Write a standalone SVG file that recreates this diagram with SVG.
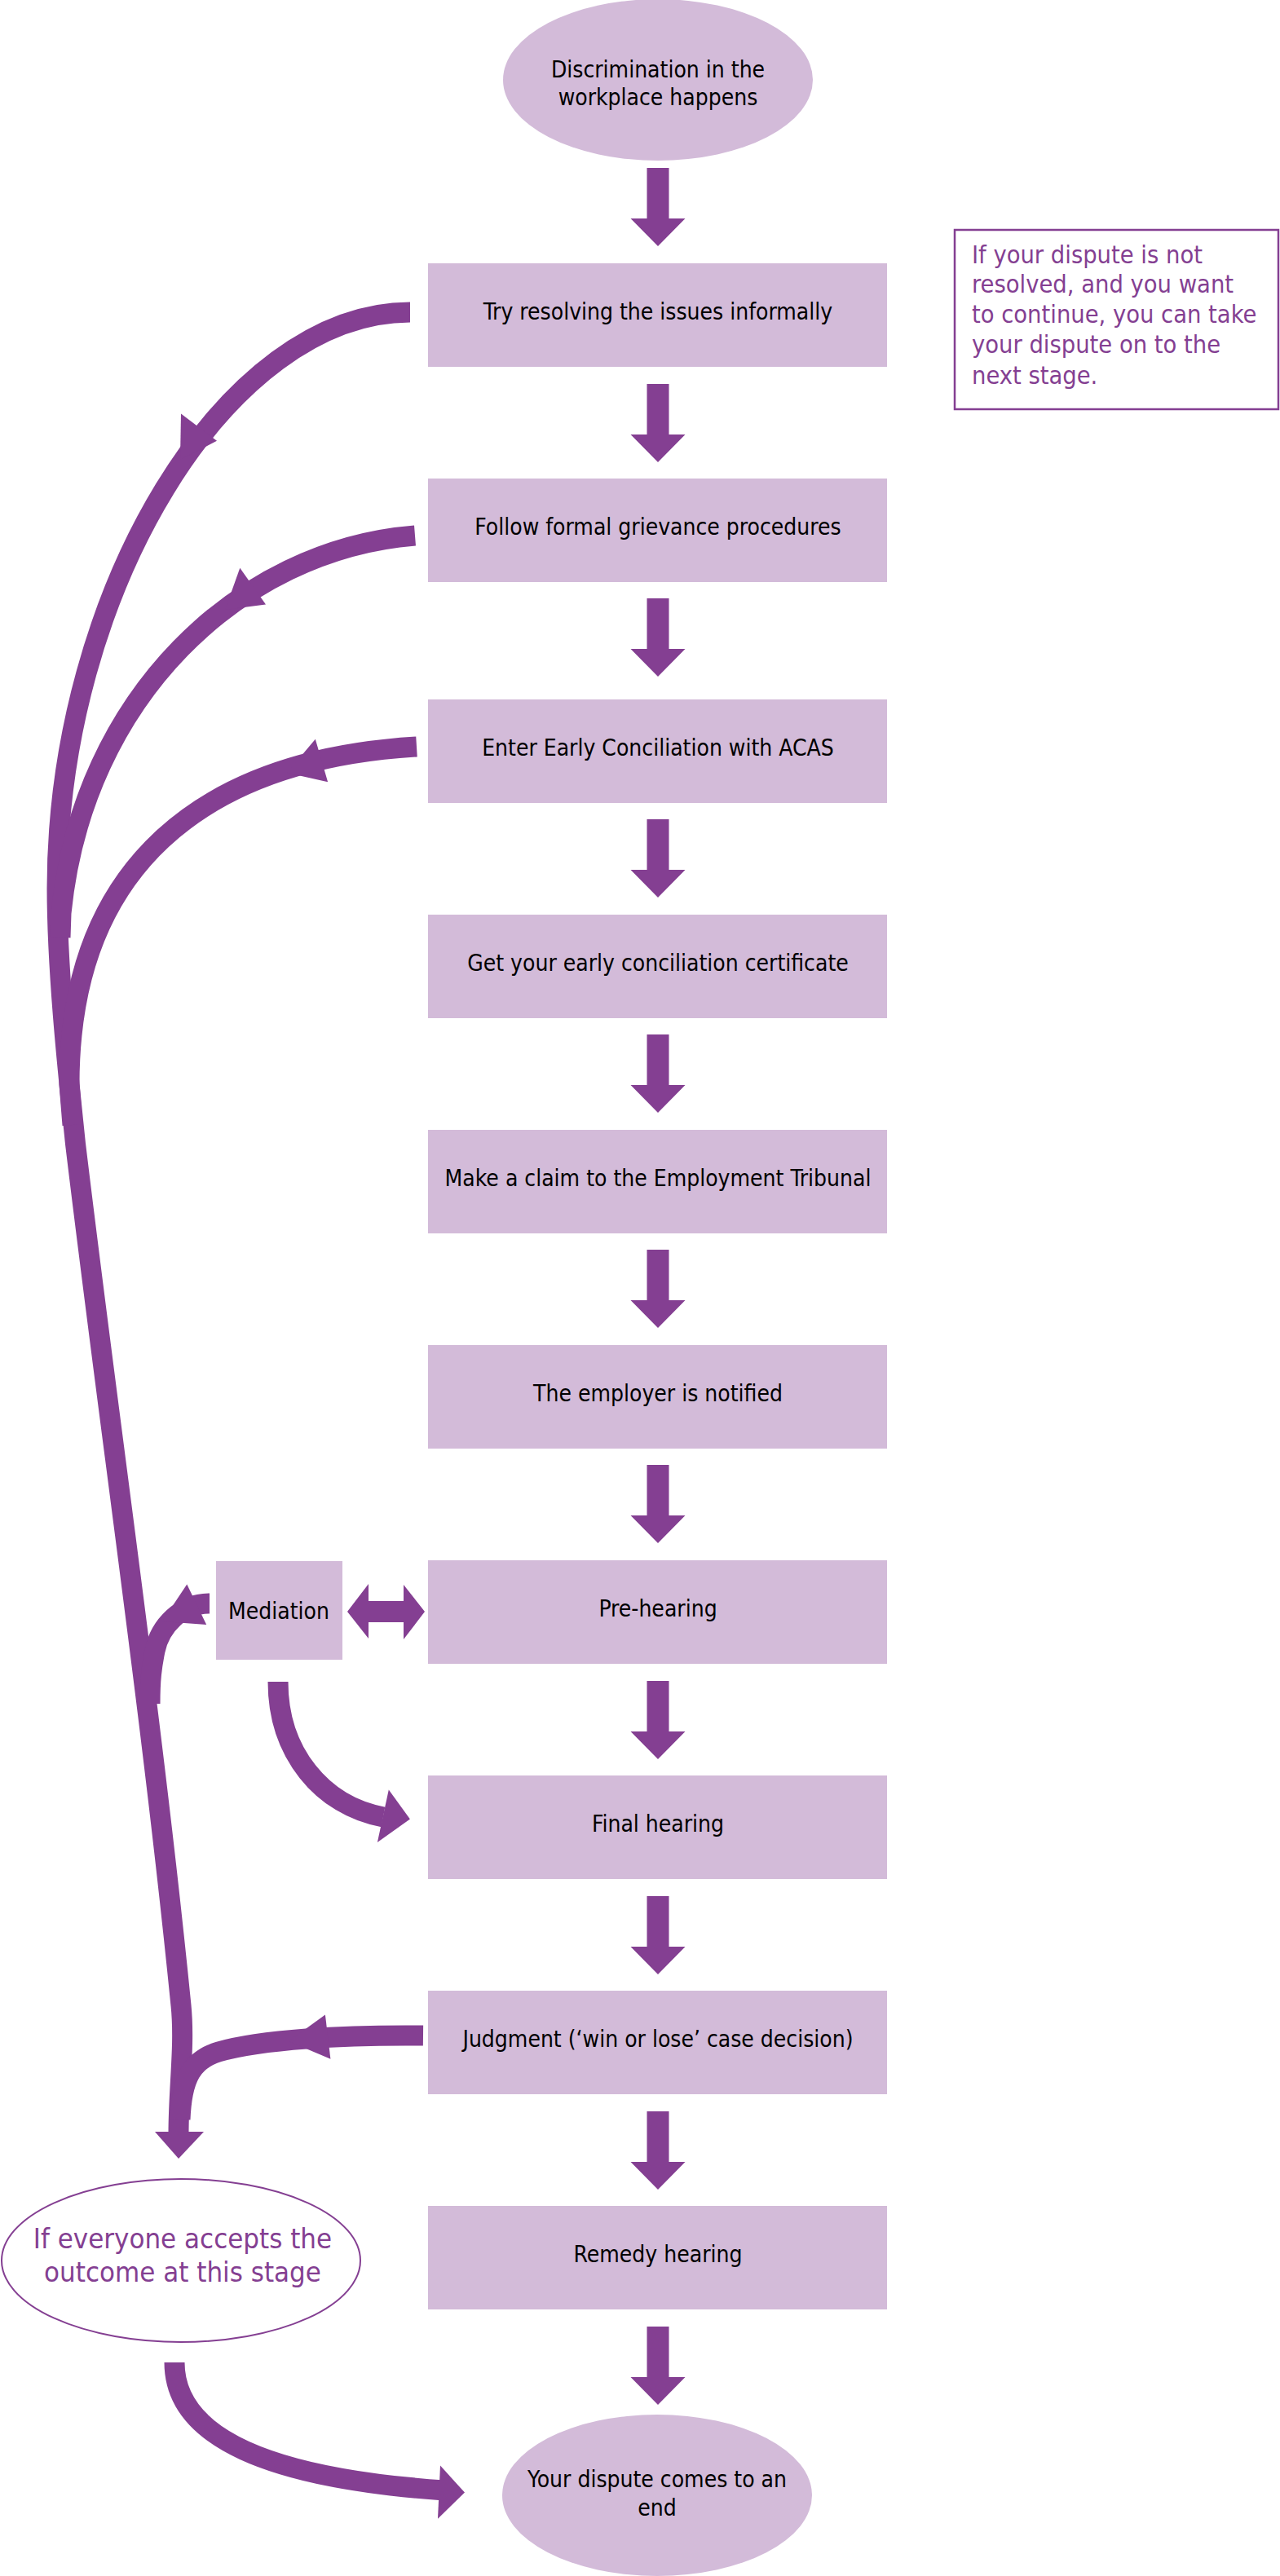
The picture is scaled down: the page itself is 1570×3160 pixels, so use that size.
<svg xmlns="http://www.w3.org/2000/svg" xmlns:xlink="http://www.w3.org/1999/xlink" width="1570" height="3160" viewBox="0 0 1570 3160">
<style>
.box{fill:#D3BBD9}
.t{font-family:"DejaVu Sans Condensed","DejaVu Sans",sans-serif;font-stretch:condensed;font-size:28px;fill:#000;text-anchor:middle}
.p{font-family:"DejaVu Sans Condensed","DejaVu Sans",sans-serif;font-stretch:condensed;fill:#843F92}
.c{fill:none;stroke:#843F92;stroke-width:25}
.h{fill:#843F92}
</style>
<defs>
<polygon id="down" points="-13.5,0 13.5,0 13.5,62 33.5,62 0,96 -33.5,62 -13.5,62"/>
</defs>
<rect width="1570" height="3160" fill="#fff"/>

<g id="connectors">
  <g class="h">
    <use xlink:href="#down" x="807" y="206"/>
    <use xlink:href="#down" x="807" y="471"/>
    <use xlink:href="#down" x="807" y="734"/>
    <use xlink:href="#down" x="807" y="1005"/>
    <use xlink:href="#down" x="807" y="1269"/>
    <use xlink:href="#down" x="807" y="1533"/>
    <use xlink:href="#down" x="807" y="1797"/>
    <use xlink:href="#down" x="807" y="2062"/>
    <use xlink:href="#down" x="807" y="2326"/>
    <use xlink:href="#down" x="807" y="2590"/>
    <use xlink:href="#down" x="807" y="2854"/>
  </g>
  <!-- main feedback line from box 1 down to the outcome -->
  <path class="c" d="M503,383 C278,383 70,725 70,1090 C70,1200 86.5,1343 92.5,1403 C134.5,1753 187,2110 222,2460 C227,2510 219,2560 219,2617"/>
  <polygon class="h" points="190,2615 250,2615 219,2648"/>
  <polygon class="h" points="222,507.5 266,540.7 221,564"/>
  <!-- from box 2 -->
  <path class="c" d="M509,657 C294,674 101.5,855 75,1120 L74,1150"/>
  <polygon class="h" points="294.3,696.8 326,741.4 276,748"/>
  <!-- from box 3 -->
  <path class="c" d="M511,916 C246,932 85,1065 85,1330 L89,1380"/>
  <polygon class="h" points="386.8,906.8 402.1,959.3 352,948"/>
  <!-- from judgment -->
  <path class="c" d="M519,2497 C420,2496 320,2502 268,2517 C236,2527 223,2548 221,2600"/>
  <polygon class="h" points="398.9,2471.4 405.4,2525.7 354,2504"/>
  <!-- from mediation to main line -->
  <path class="c" d="M257,1967 C222,1967 196,1995 190,2025 C186,2045 184,2060 184,2090"/>
  <polygon class="h" points="229.3,1943.6 253.2,1992.9 199,1989"/>
  <!-- mediation to final hearing -->
  <path class="c" d="M341,2063 C341,2150 395,2215 470,2229"/>
  <polygon class="h" points="476.8,2195.4 502.9,2231.4 462.9,2260"/>
  <!-- mediation <-> pre-hearing -->
  <polygon class="h" points="426,1977 452,1943 452,1964 495,1964 495,1944 521,1977 495,2011 495,1990 452,1990 452,2010"/>
  <!-- outcome to end -->
  <path class="c" d="M214,2898 C214,2990 330,3040 545,3055"/>
  <polygon class="h" points="540,3024.6 570,3057.6 537,3089.7"/>
</g>

<g id="node-start">
  <ellipse cx="807" cy="98" rx="190" ry="99" class="box"/>
  <text class="t" x="807" y="95">Discrimination in the</text>
  <text class="t" x="807" y="129">workplace happens</text>
</g>
<g id="node-informal">
  <rect class="box" x="525" y="323" width="563" height="127"/>
  <text class="t" x="807" y="392">Try resolving the issues informally</text>
</g>
<g id="node-grievance">
  <rect class="box" x="525" y="587" width="563" height="127"/>
  <text class="t" x="807" y="656">Follow formal grievance procedures</text>
</g>
<g id="node-acas">
  <rect class="box" x="525" y="858" width="563" height="127"/>
  <text class="t" x="807" y="927">Enter Early Conciliation with ACAS</text>
</g>
<g id="node-certificate">
  <rect class="box" x="525" y="1122" width="563" height="127"/>
  <text class="t" x="807" y="1191">Get your early conciliation certificate</text>
</g>
<g id="node-claim">
  <rect class="box" x="525" y="1386" width="563" height="127"/>
  <text class="t" x="807" y="1455">Make a claim to the Employment Tribunal</text>
</g>
<g id="node-notified">
  <rect class="box" x="525" y="1650" width="563" height="127"/>
  <text class="t" x="807" y="1719">The employer is notified</text>
</g>
<g id="node-prehearing">
  <rect class="box" x="525" y="1914" width="563" height="127"/>
  <text class="t" x="807" y="1983">Pre-hearing</text>
</g>
<g id="node-mediation">
  <rect class="box" x="265" y="1915" width="155" height="121"/>
  <text class="t" x="342" y="1986">Mediation</text>
</g>
<g id="node-final">
  <rect class="box" x="525" y="2178" width="563" height="127"/>
  <text class="t" x="807" y="2247">Final hearing</text>
</g>
<g id="node-judgment">
  <rect class="box" x="525" y="2442" width="563" height="127"/>
  <text class="t" x="807" y="2511">Judgment (‘win or lose’ case decision)</text>
</g>
<g id="node-remedy">
  <rect class="box" x="525" y="2706" width="563" height="127"/>
  <text class="t" x="807" y="2775">Remedy hearing</text>
</g>
<g id="node-end">
  <ellipse cx="806" cy="3061" rx="190" ry="99" class="box"/>
  <text class="t" x="806" y="3051">Your dispute comes to an</text>
  <text class="t" x="806" y="3086">end</text>
</g>
<g id="node-accept">
  <ellipse cx="222" cy="2773" rx="220" ry="100" fill="#fff" stroke="#843F92" stroke-width="2"/>
  <text class="p" x="224" y="2758" font-size="34.5" text-anchor="middle">If everyone accepts the</text>
  <text class="p" x="224" y="2799" font-size="34.5" text-anchor="middle">outcome at this stage</text>
</g>
<g id="node-note">
  <rect x="1171" y="282" width="397" height="220" fill="#fff" stroke="#843F92" stroke-width="2.5"/>
  <text class="p" x="1192" y="323" font-size="30.5">If your dispute is not</text>
  <text class="p" x="1192" y="359" font-size="30.5">resolved, and you want</text>
  <text class="p" x="1192" y="396" font-size="30.5">to continue, you can take</text>
  <text class="p" x="1192" y="433" font-size="30.5">your dispute on to the</text>
  <text class="p" x="1192" y="471" font-size="30.5">next stage.</text>
</g>
</svg>
